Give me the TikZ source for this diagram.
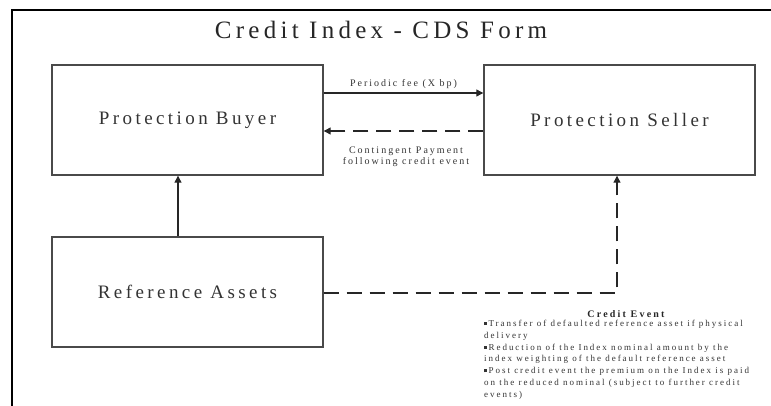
\documentclass[tikz,border=0pt]{standalone}
\usepackage{fontspec}
\setmainfont{Liberation Serif}
\newfontfamily\titlefont[LetterSpace=17]{Liberation Serif}
\newfontfamily\boxfont[LetterSpace=18]{Liberation Serif}
\newfontfamily\smallfont[LetterSpace=20]{Liberation Serif}
\newfontfamily\cefont[LetterSpace=22]{Liberation Serif}
\usetikzlibrary{arrows.meta}
\definecolor{boxgray}{HTML}{4A4A4A}
\tikzset{
  entity/.style={draw=boxgray, line width=1.4pt, minimum width=271pt, minimum height=110pt, inner sep=0pt, font=\boxfont\fontsize{19}{22}\selectfont, text=black!80},
  flow/.style={draw=black!85, line width=1.2pt, -{Triangle[length=7pt,width=7pt]}},
  dflow/.style={flow, dash pattern=on 15pt off 8pt},
  lbl/.style={font=\smallfont\fontsize{10}{11.5}\selectfont, text=black!80, inner sep=0pt, align=center},
}
\newcommand{\sqb}{\rule[0.35ex]{0.32em}{0.32em}\,}
\begin{document}
\begin{tikzpicture}[x=1pt,y=-1pt]
\useasboundingbox (0,0) rectangle (771,405);
\begin{scope}
\clip (0,0) rectangle (771,405);
\draw[line width=1.6pt, black] (12,10) rectangle (790,430);
\end{scope}
\node[font=\titlefont\fontsize{25}{28}\selectfont, text=black!85] (title) at (381,30) {Credit Index - CDS Form};
\node[entity] (buyer) at (187.5,120) {Protection Buyer};
\node[entity] (seller) at (619.5,120) {Protection Seller};
\node[entity] (ref) at (187.5,292) {Reference Assets};
\draw[flow] (buyer.east |- 0,93) -- (seller.west |- 0,93) node[lbl, midway, above=4pt] (fee) {Periodic fee (X bp)};
\draw[dflow] (seller.west |- 0,131) -- (buyer.east |- 0,131);
\node[lbl] (cont) at (406,157) {Contingent Payment\\following credit event};
\coordinate (up) at (178,0);
\draw[flow] (ref.north -| up) -- (buyer.south -| up);
\coordinate (corner) at (617,293);
\draw[dflow] (ref.east |- corner) -- (corner) -- (seller.south -| corner);
\node[font=\cefont\bfseries\fontsize{10}{12}\selectfont, text=black!85, inner sep=0pt] (ce) at (626,314) {Credit Event};
\node[font=\cefont\fontsize{9}{11.8}\selectfont, text=black!80, inner sep=0pt, align=left, anchor=north west] (cetext) at (484,320) {\sqb Transfer of defaulted reference asset if physical\\delivery\\\sqb Reduction of the Index nominal amount by the\\index weighting of the default reference asset\\\sqb Post credit event the premium on the Index is paid\\on the reduced nominal (subject to further credit\\events)};
\end{tikzpicture}
\end{document}
